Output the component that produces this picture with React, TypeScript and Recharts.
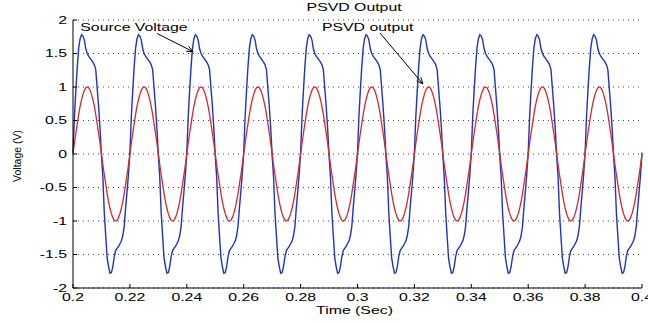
import React from 'react';
import {
  LineChart,
  Line,
  XAxis,
  YAxis,
  CartesianGrid,
  ReferenceLine,
  ReferenceDot,
} from 'recharts';

const cycleStarts = [0.2, 0.22, 0.24, 0.26, 0.28, 0.3, 0.32, 0.34, 0.36, 0.38];
const endTime = 0.4;
const cyclePhase = [
  0, 0.0005, 0.001, 0.0015, 0.002, 0.0025, 0.003, 0.0035, 0.004, 0.0045,
  0.005, 0.0055, 0.006, 0.0065, 0.007, 0.0075, 0.008, 0.0085, 0.009, 0.0095,
  0.01, 0.0105, 0.011, 0.0115, 0.012, 0.0125, 0.013, 0.0135, 0.014, 0.0145,
  0.015, 0.0155, 0.016, 0.0165, 0.017, 0.0175, 0.018, 0.0185, 0.019, 0.0195,
];
const sourceVoltage = [
  0.02, 0.56, 0.95, 1.3, 1.58, 1.72, 1.78, 1.76, 1.7, 1.57,
  1.5, 1.46, 1.43, 1.4, 1.37, 1.33, 1.26, 0.98, 0.71, 0.38,
  -0.02, -0.35, -0.88, -1.22, -1.55, -1.68, -1.78, -1.77, -1.68, -1.53,
  -1.44, -1.41, -1.38, -1.34, -1.3, -1.22, -1.08, -0.8, -0.56, -0.3,
];
const psvdOutput = [
  0, 0.16, 0.31, 0.45, 0.59, 0.71, 0.81, 0.89, 0.95, 0.99,
  1, 0.99, 0.95, 0.89, 0.81, 0.71, 0.59, 0.45, 0.31, 0.16,
  0, -0.16, -0.31, -0.45, -0.59, -0.71, -0.81, -0.89, -0.95, -0.99,
  -1, -0.99, -0.95, -0.89, -0.81, -0.71, -0.59, -0.45, -0.31, -0.16,
];
const xTicks = [0.2, 0.22, 0.24, 0.26, 0.28, 0.3, 0.32, 0.34, 0.36, 0.38, 0.4];
const yTicks = [-2, -1.5, -1, -0.5, 0, 0.5, 1, 1.5, 2];

const table = cycleStarts.flatMap((start) =>
  cyclePhase.map((ph, i) => ({
    time: Number((start + ph).toFixed(4)),
    source: sourceVoltage[i],
    psvd: psvdOutput[i],
  }))
);
table.push({ time: endTime, source: sourceVoltage[0], psvd: psvdOutput[0] });

const FONT = '"Liberation Sans", Arial, sans-serif';
const STRETCH = 1.44;

const fmt = (v: number) => String(Number(v.toFixed(2)));

const XTick = ({ x, y, payload }: any) => (
  <g transform={`translate(${x},${y}) scale(${STRETCH},1)`}>
    <text textAnchor="middle" dy="0.72em" fontSize={11} fontFamily={FONT} fill="#000">
      {fmt(payload.value)}
    </text>
  </g>
);

const YTick = ({ x, y, payload }: any) => (
  <g transform={`translate(${x},${y}) scale(${STRETCH},1)`}>
    <text textAnchor="end" dy="0.36em" fontSize={11} fontFamily={FONT} fill="#000">
      {fmt(payload.value)}
    </text>
  </g>
);

const NoTick = () => <g />;

const TimeLabel = ({ viewBox }: any) => (
  <g transform={`translate(${viewBox.x + viewBox.width / 2 - 3},${viewBox.y + 26}) scale(${STRETCH},1)`}>
    <text textAnchor="middle" fontSize={11} fontFamily={FONT} fill="#000">
      Time (Sec)
    </text>
  </g>
);

const VoltLabel = ({ viewBox }: any) => (
  <g transform={`translate(${viewBox.x + 5},${viewBox.y + viewBox.height / 2 + 2}) rotate(-90)`}>
    <text textAnchor="middle" dy="0.36em" fontSize={10.5} fontFamily={FONT} fill="#000">
      Voltage (V)
    </text>
  </g>
);

const NoteText = ({ viewBox, value, anchor }: any) => (
  <g transform={`translate(${viewBox.x},${viewBox.y}) scale(${STRETCH},1)`}>
    <text textAnchor={anchor || 'start'} dy="0.36em" fontSize={11} fontFamily={FONT} fill="#000">
      {value}
    </text>
  </g>
);

const Arrow = ({ x1, y1, x2, y2 }: any) => {
  const a = Math.atan2(y2 - y1, x2 - x1);
  const len = 7;
  const spread = 0.4;
  const hx1 = x2 - len * Math.cos(a - spread);
  const hy1 = y2 - len * Math.sin(a - spread);
  const hx2 = x2 - len * Math.cos(a + spread);
  const hy2 = y2 - len * Math.sin(a + spread);
  return (
    <g stroke="#000" strokeWidth={1} fill="none">
      <line x1={x1} y1={y1} x2={x2} y2={y2} />
      <polyline points={`${hx1},${hy1} ${x2},${y2} ${hx2},${hy2}`} />
    </g>
  );
};

const title = { text: 'PSVD Output', at: { x: 0.2988, y: 2.19 } };

const notes = [
  { text: 'Source Voltage', at: { x: 0.20256, y: 1.895 }, from: { x: 0.2295, y: 1.8 }, to: { x: 0.2422, y: 1.527 } },
  { text: 'PSVD output', at: { x: 0.2875, y: 1.895 }, from: { x: 0.3079, y: 1.806 }, to: { x: 0.323, y: 1.045 } },
];

const App = () => {
  return (
    <div style={{ position: 'absolute', left: 0, top: 0, background: '#fff' }}>
      <LineChart
        width={648}
        height={323}
        data={table}
        margin={{ top: 20, right: 6, bottom: 4, left: 12 }}
      >
        <CartesianGrid vertical={false} stroke="#444" strokeDasharray="1 4" />
        <XAxis
          dataKey="time"
          type="number"
          domain={[0.2, 0.4]}
          ticks={xTicks}
          interval={0}
          height={31}
          tickSize={-4}
          tickMargin={9}
          tick={<XTick />}
          axisLine={{ stroke: '#000' }}
          tickLine={{ stroke: '#000' }}
          label={<TimeLabel />}
        />
        <XAxis
          xAxisId="top"
          orientation="top"
          dataKey="time"
          type="number"
          domain={[0.2, 0.4]}
          ticks={xTicks}
          interval={0}
          height={0}
          tickSize={-4}
          tick={<NoTick />}
          axisLine={{ stroke: '#000' }}
          tickLine={{ stroke: '#000' }}
        />
        <YAxis
          type="number"
          domain={[-2, 2]}
          ticks={yTicks}
          interval={0}
          width={61}
          tickSize={-4}
          tickMargin={10}
          tick={<YTick />}
          axisLine={{ stroke: '#000' }}
          tickLine={{ stroke: '#000' }}
          label={<VoltLabel />}
        />
        <YAxis
          yAxisId="r"
          orientation="right"
          type="number"
          domain={[-2, 2]}
          ticks={yTicks}
          interval={0}
          width={0}
          tickSize={-4}
          tick={<NoTick />}
          axisLine={{ stroke: '#000' }}
          tickLine={{ stroke: '#000' }}
        />
        <Line
          dataKey="source"
          type="linear"
          stroke="#2232c4"
          strokeWidth={1.4}
          dot={false}
          isAnimationActive={false}
        />
        <Line
          dataKey="psvd"
          type="linear"
          stroke="#d42a2a"
          strokeWidth={1.3}
          dot={false}
          isAnimationActive={false}
        />
        {notes.map((n) => (
          <ReferenceLine
            key={n.text + '-arrow'}
            segment={[n.from, n.to]}
            ifOverflow="visible"
            shape={(p: any) => <Arrow {...p} />}
          />
        ))}
        {notes.map((n) => (
          <ReferenceDot
            key={n.text}
            x={n.at.x}
            y={n.at.y}
            r={0}
            fill="none"
            stroke="none"
            ifOverflow="visible"
            label={<NoteText value={n.text} />}
          />
        ))}
        <ReferenceDot
          x={title.at.x}
          y={title.at.y}
          r={0}
          fill="none"
          stroke="none"
          ifOverflow="visible"
          label={<NoteText value={title.text} anchor="middle" />}
        />
      </LineChart>
    </div>
  );
};

export default App;
